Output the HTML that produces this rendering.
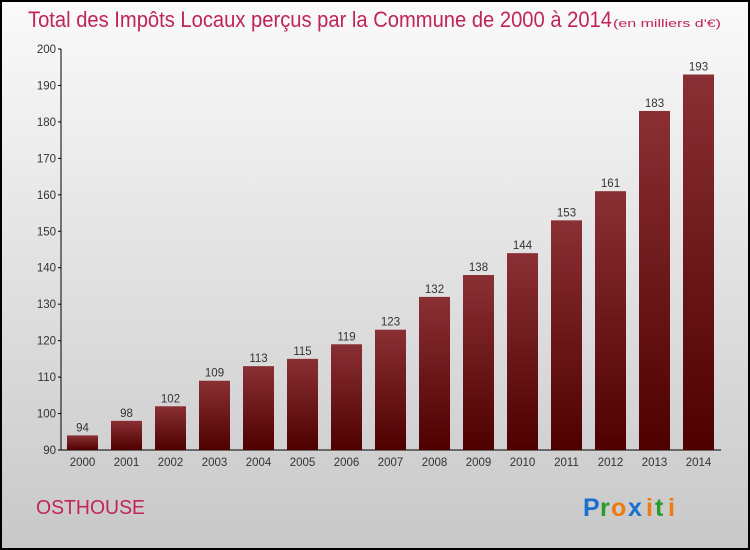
<!DOCTYPE html>
<html><head><meta charset="utf-8"><style>
body{margin:0;}
#c{width:750px;height:550px;position:relative;box-sizing:border-box;border:2px solid #000;background:linear-gradient(#fafafa,#c8c8c8);overflow:hidden;font-family:"Liberation Sans",sans-serif;}
</style></head><body>
<div id="c">
<svg width="750" height="550" style="position:absolute;left:-2px;top:-2px">
<defs><linearGradient id="bg" x1="0" y1="0" x2="0" y2="1"><stop offset="0" stop-color="#8a3035"/><stop offset="1" stop-color="#4e0000"/></linearGradient></defs>
<text x="28" y="27" font-size="22" fill="#c0245a" textLength="584" lengthAdjust="spacingAndGlyphs">Total des Impôts Locaux perçus par la Commune de 2000 à 2014</text>
<text x="613" y="27" font-size="11" fill="#c0245a" textLength="108" lengthAdjust="spacingAndGlyphs">(en milliers d'€)</text>
<g id="axes"></g><g id="bars"></g>
<text x="36" y="514" font-size="20" fill="#c0245a" textLength="109" lengthAdjust="spacingAndGlyphs">OSTHOUSE</text>
<g font-family="Liberation Sans, sans-serif" font-size="25" font-weight="bold">
<text x="583" y="516" fill="#1a6fd0">P</text><text x="600" y="516" fill="#2a9a2a">r</text><text x="611" y="516" fill="#f07a10">o</text><text x="628" y="516" fill="#1a6fd0">x</text><text x="646" y="516" fill="#f07a10">i</text><text x="655" y="516" fill="#2a9a2a">t</text><text x="668" y="516" fill="#f07a10">i</text>
</g>
</svg>
</div>
<script>
const years=["2000","2001","2002","2003","2004","2005","2006","2007","2008","2009","2010","2011","2012","2013","2014"];
const values=[94,98,102,109,113,115,119,123,132,138,144,153,161,183,193];
const yTicks=[90,100,110,120,130,140,150,160,170,180,190,200];
const NS="http://www.w3.org/2000/svg";
const y0=450,yTop=49,vMin=90,vMax=200;
const yS=v=>y0-(v-vMin)*(y0-yTop)/(vMax-vMin);
const xS=i=>82.5+i*44;
function mk(t,a,p){const e=document.createElementNS(NS,t);for(const k in a)e.setAttribute(k,a[k]);p.appendChild(e);return e;}
const ax=document.getElementById('axes'),bs=document.getElementById('bars');
const yl=mk('line',{x1:61,y1:yTop,x2:61,y2:y0,stroke:'#000'},ax);


const xl=mk('line',{x1:61,y1:y0,x2:721,y2:y0,stroke:'#000'},ax);


yTicks.forEach(v=>{
 mk('line',{x1:58,x2:61,y1:yS(v),y2:yS(v),stroke:'#000'},ax);
 const t=mk('text',{x:56,y:yS(v)+4,'text-anchor':'end','font-size':11.5,fill:'#333'},ax);t.textContent=v;
 
 
});
years.forEach((yr,i)=>{
 const v=values[i],x=xS(i);
 const r=mk('rect',{x:x-15.5,y:yS(v),width:31,height:y0-yS(v),fill:'url(#bg)'},bs);
 
 
 const l=mk('text',{x:x,y:yS(v)-4,'text-anchor':'middle','font-size':11.5,fill:'#333'},bs);l.textContent=v;
 
 
 const t=mk('text',{x:x,y:466,'text-anchor':'middle','font-size':11.5,fill:'#333'},ax);t.textContent=yr;
 
 
});
</script>
</body></html>
